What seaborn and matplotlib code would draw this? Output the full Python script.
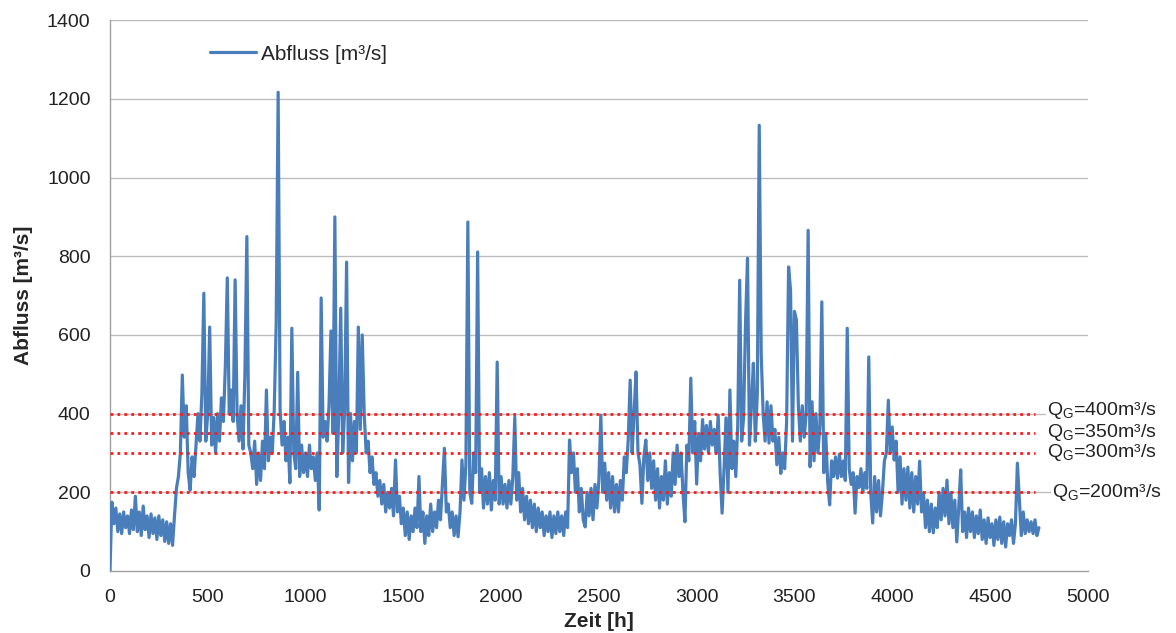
import numpy as np
import pandas as pd
import matplotlib
matplotlib.use("Agg")
import matplotlib.pyplot as plt
import seaborn as sns

step_h = 10
abfluss = [
    0, 175, 120, 160, 100, 145, 95, 150, 110, 140,
    95, 155, 105, 190, 100, 150, 90, 165, 105, 140,
    85, 145, 95, 135, 80, 140, 90, 130, 75, 125,
    70, 120, 65, 140, 210, 240, 300, 498, 340, 420,
    250, 205, 290, 240, 320, 400, 330, 450, 706, 330,
    400, 620, 320, 390, 300, 400, 330, 440, 380, 520,
    745, 400, 460, 380, 740, 400, 330, 420, 310, 500,
    850, 320, 300, 260, 330, 220, 300, 230, 330, 260,
    460, 280, 340, 300, 410, 630, 1217, 410, 320, 380,
    280, 340, 224, 617, 300, 260, 505, 240, 320, 250,
    300, 240, 320, 260, 290, 230, 300, 155, 694, 340,
    380, 330, 420, 610, 350, 900, 240, 400, 668, 300,
    410, 785, 225, 400, 280, 380, 300, 620, 360, 600,
    400, 300, 330, 250, 290, 220, 250, 190, 230, 170,
    220, 150, 200, 160, 210, 140, 282, 150, 190, 120,
    160, 90, 150, 80, 140, 100, 160, 110, 240, 100,
    150, 70, 140, 90, 170, 100, 150, 110, 180, 130,
    220, 312, 150, 170, 110, 150, 90, 140, 87, 150,
    282, 180, 270, 887, 200, 172, 300, 250, 811, 200,
    260, 160, 240, 170, 250, 155, 230, 180, 531, 170,
    240, 170, 220, 160, 230, 170, 240, 391, 180, 250,
    150, 210, 130, 190, 120, 180, 110, 170, 100, 160,
    110, 150, 90, 140, 100, 150, 85, 140, 95, 150,
    100, 140, 90, 150, 110, 333, 250, 300, 200, 260,
    150, 210, 130, 112, 200, 140, 210, 130, 220, 160,
    230, 396, 200, 274, 180, 250, 160, 240, 150, 220,
    150, 230, 180, 290, 250, 333, 485, 300, 400, 506,
    300, 270, 172, 290, 333, 230, 300, 210, 280, 180,
    260, 160, 240, 180, 280, 170, 250, 190, 300, 220,
    320, 240, 300, 200, 125, 320, 280, 490, 300, 380,
    221, 350, 280, 385, 310, 370, 300, 380, 320, 360,
    300, 396, 250, 147, 260, 389, 200, 460, 260, 330,
    240, 370, 739, 330, 390, 633, 795, 320, 420, 528,
    330, 450, 1133, 550, 400, 330, 430, 325, 420, 330,
    360, 270, 340, 248, 300, 260, 380, 773, 714, 330,
    660, 638, 420, 330, 420, 340, 400, 866, 265, 430,
    280, 400, 300, 370, 684, 250, 350, 225, 168, 280,
    240, 290, 236, 297, 240, 280, 230, 617, 260, 220,
    250, 147, 240, 212, 260, 200, 250, 210, 544, 200,
    122, 240, 150, 230, 140, 200, 280, 300, 434, 300,
    366, 282, 330, 200, 290, 170, 260, 180, 264, 160,
    250, 150, 240, 170, 279, 150, 198, 110, 180, 100,
    170, 97, 160, 110, 200, 130, 210, 140, 231, 120,
    200, 110, 180, 74, 160, 257, 100, 150, 85, 160,
    100, 150, 85, 140, 95, 155, 80, 130, 70, 135,
    85, 120, 65, 130, 80, 137, 70, 125, 61, 120,
    90, 130, 70, 120, 274, 180, 90, 150, 95, 130,
    100, 125, 95, 130, 90, 110,
]
zeit = np.arange(len(abfluss)) * step_h

grenzwerte = [400, 350, 300, 200]
grenz_labels = ["Q$_\\mathregular{G}$=400m³/s", "Q$_\\mathregular{G}$=350m³/s",
                "Q$_\\mathregular{G}$=300m³/s", "Q$_\\mathregular{G}$=200m³/s"]
label_y = [408, 352, 301, 200]
label_x = [4790, 4790, 4790, 4815]

x_ticks = [0, 500, 1000, 1500, 2000, 2500, 3000, 3500, 4000, 4500, 5000]
y_ticks = [0, 200, 400, 600, 800, 1000, 1200, 1400]

df = pd.DataFrame({"Zeit [h]": zeit, "Abfluss [m³/s]": abfluss})

sns.set_style("white")
plt.rcParams["font.family"] = ["Liberation Sans", "DejaVu Sans"]
plt.rcParams["mathtext.fontset"] = "custom"
plt.rcParams["mathtext.rm"] = "Liberation Sans"

fig = plt.figure(figsize=(11.76, 6.33), dpi=100)
ax = fig.add_axes([0.0935, 0.098, 0.8315, 0.870])

for yv in y_ticks[1:]:
    ax.axhline(yv, color="#bdbdbd", lw=1.0, zorder=0)

sns.lineplot(data=df, x="Zeit [h]", y="Abfluss [m³/s]", ax=ax,
             color="#4a7ebb", lw=2.3, label="Abfluss [m³/s]", zorder=3)

for g in grenzwerte:
    ax.plot([0, 4730], [g, g], color="#ff1a1a", lw=2.0,
            linestyle=(0, (1, 1.5)), zorder=4)

for lab, lx, ly in zip(grenz_labels, label_x, label_y):
    ax.text(lx, ly, lab, fontsize=14, color="#222222", va="center",
            ha="left", zorder=5, clip_on=False,
            bbox=dict(facecolor="white", edgecolor="none", pad=0.5))

ax.set_xlim(0, 5000)
ax.set_ylim(0, 1400)
ax.set_xticks(x_ticks)
ax.set_yticks(y_ticks)
ax.tick_params(axis="both", labelsize=14, colors="#222222", length=4,
               width=1, direction="out")
ax.tick_params(axis="x", color="#a0a0a0", pad=9)
ax.tick_params(axis="y", color="#a0a0a0", pad=10)
for s in ["top", "right"]:
    ax.spines[s].set_visible(False)
for s in ["left", "bottom"]:
    ax.spines[s].set_color("#a0a0a0")
    ax.spines[s].set_linewidth(1.0)

ax.set_xlabel("Zeit [h]", fontsize=15, fontweight="bold", labelpad=4)
ax.set_ylabel("Abfluss [m³/s]", fontsize=15, fontweight="bold", labelpad=10)

leg = ax.legend(loc="upper left", bbox_to_anchor=(0.083, 0.99), frameon=False,
                fontsize=15, handlelength=2.2, handletextpad=0.25)

fig.savefig("out.png", dpi=100)
